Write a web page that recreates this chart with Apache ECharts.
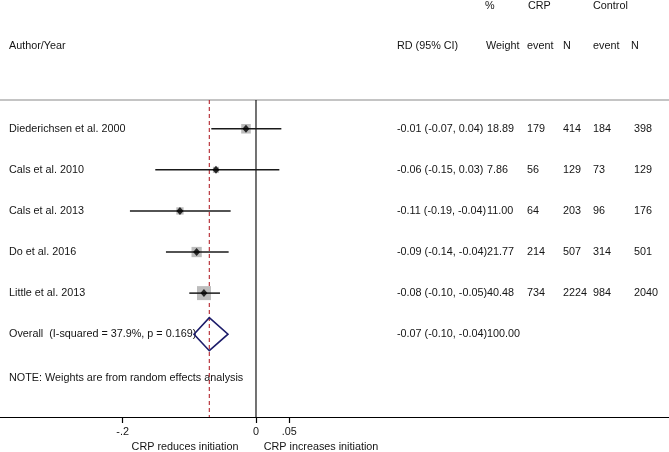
<!DOCTYPE html>
<html><head><meta charset="utf-8">
<script src="https://cdn.jsdelivr.net/npm/echarts@6/dist/echarts.min.js"></script>
<style>html,body{margin:0;padding:0;background:#fff}#c{width:669px;height:452px}</style>
</head><body><div id="c"></div>
<script>
// ---- data ----
const studies = ["Diederichsen et al. 2000","Cals et al. 2010","Cals et al. 2013","Do et al. 2016","Little et al. 2013"];
const rd = [-0.015,-0.060,-0.114,-0.089,-0.078];
const ciLow = [-0.067,-0.151,-0.189,-0.135,-0.100];
const ciHigh = [0.038,0.035,-0.038,-0.041,-0.054];
const weights = [18.89,7.86,11.00,21.77,40.48];
const rdText = ["-0.01 (-0.07, 0.04)","-0.06 (-0.15, 0.03)","-0.11 (-0.19, -0.04)","-0.09 (-0.14, -0.04)","-0.08 (-0.10, -0.05)"];
const weightText = ["18.89","7.86","11.00","21.77","40.48"];
const crpEvent = ["179","56","64","214","734"];
const crpN = ["414","129","203","507","2224"];
const ctrlEvent = ["184","73","96","314","984"];
const ctrlN = ["398","129","176","501","2040"];
const overallLabel = "Overall  (I-squared = 37.9%, p = 0.169)";
const overallEst = -0.07;
const overallLow = -0.093;
const overallHigh = -0.042;
const overallText = "-0.07 (-0.10, -0.04)";
const overallWeight = "100.00";
const noteText = "NOTE: Weights are from random effects analysis";
const xTicks = [-0.2, 0, 0.05];
const xTickLabels = ["-.2", "0", ".05"];

// ---- layout / style ----
const FONT = '10.8px "Liberation Sans", Arial, sans-serif';
const TXT = '#141414';
const col = {name: 9, rd: 397, w: 487, ce: 527, cn: 563, te: 593, tn: 634};
const Y_MIN = -0.7, Y_MAX = 7.015;

const chart = echarts.init(document.getElementById('c'), null, {renderer: 'canvas'});

function txt(x, y, s, align) {
  return {type: 'text', x: x, y: y, silent: true,
    style: {text: s, fill: TXT, font: FONT, align: align || 'left', verticalAlign: 'middle'}};
}

const option = {
  animation: false,
  backgroundColor: '#fff',
  grid: {left: 0, right: 0, top: 100, bottom: 35},
  xAxis: [
    {type: 'value', min: -0.3838, max: 0.6192, position: 'bottom',
     axisLine: {show: true, onZero: false, lineStyle: {color: '#000', width: 1.2}},
     axisTick: {show: true, customValues: xTicks, length: 6, lineStyle: {color: '#000', width: 1.2}},
     axisLabel: {show: true, customValues: xTicks, margin: 10, color: TXT,
       fontFamily: 'Liberation Sans', fontSize: 10.8,
       formatter: function (v) { const i = xTicks.findIndex(t => Math.abs(t - v) < 1e-9); return i >= 0 ? xTickLabels[i] : ''; }},
     splitLine: {show: false}},
    {type: 'value', min: 0, max: 669, position: 'top',
     axisLine: {show: true, onZero: false, lineStyle: {color: '#c4c4c4', width: 2}},
     axisTick: {show: false}, axisLabel: {show: false}, splitLine: {show: false}}
  ],
  yAxis: {type: 'value', inverse: true, min: Y_MIN, max: Y_MAX, show: false},
  graphic: [
    txt(9, 46, 'Author/Year'),
    txt(397, 46, 'RD (95% CI)'),
    txt(485, 6, '%'),
    txt(486, 46, 'Weight'),
    txt(528, 6, 'CRP'),
    txt(527, 46, 'event'),
    txt(563, 46, 'N'),
    txt(593, 6, 'Control'),
    txt(593, 46, 'event'),
    txt(631, 46, 'N'),
    txt(9, 378, noteText),
    txt(185, 447, 'CRP reduces initiation', 'center'),
    txt(321, 447, 'CRP increases initiation', 'center')
  ],
  series: [
    // reference lines: null (0) and overall estimate
    {type: 'custom', xAxisIndex: 0, z: 1,
     data: [[0, 0], [overallEst, 1]],
     renderItem: function (params, api) {
       const x = api.value(0);
       const a = api.coord([x, Y_MIN]);
       const b = api.coord([x, Y_MAX]);
       const dashed = api.value(1) === 1;
       return {type: 'line', shape: {x1: a[0], y1: a[1], x2: b[0], y2: b[1]},
         style: dashed ? {stroke: '#b3242c', lineWidth: 1.1, lineDash: [4, 3]}
                       : {stroke: '#000', lineWidth: 1.1}};
     }},
    {type: 'custom', xAxisIndex: 0, z: 3,
     data: rd.map((v, i) => [v, ciLow[i], ciHigh[i], weights[i], i]),
     renderItem: function (params, api) {
       const i = api.value(4);
       const p = api.coord([api.value(0), i]);
       const a = api.coord([api.value(1), i]);
       const b = api.coord([api.value(2), i]);
       const s = 2.2 * Math.sqrt(api.value(3));
       return {type: 'group', children: [
         {type: 'rect', shape: {x: p[0] - s / 2, y: p[1] - s / 2, width: s, height: s}, style: {fill: '#bcbcbc'}},
         {type: 'line', shape: {x1: a[0], y1: a[1], x2: b[0], y2: b[1]}, style: {stroke: '#1a1a1a', lineWidth: 1.5}}
       ]};
     }},
    {type: 'scatter', xAxisIndex: 0, z: 4, symbol: 'diamond', symbolSize: [7, 8],
     itemStyle: {color: '#000'}, data: rd.map((v, i) => [v, i])},
    {type: 'custom', xAxisIndex: 1, z: 2,
     data: studies.map((s, i) => [i]).concat([[5]]),
     renderItem: function (params, api) {
       const i = api.value(0);
       const y = api.coord([0, i])[1];
       const X = c => api.coord([c, i])[0];
       if (i === 5) {
         return {type: 'group', children: [
           txt(X(col.name), y, overallLabel), txt(X(col.rd), y, overallText), txt(X(col.w), y, overallWeight)]};
       }
       return {type: 'group', children: [
         txt(X(col.name), y, studies[i]), txt(X(col.rd), y, rdText[i]), txt(X(col.w), y, weightText[i]),
         txt(X(col.ce), y, crpEvent[i]), txt(X(col.cn), y, crpN[i]),
         txt(X(col.te), y, ctrlEvent[i]), txt(X(col.tn), y, ctrlN[i])]};
     }},
    {type: 'custom', xAxisIndex: 0, z: 5,
     data: [[overallEst, overallLow, overallHigh, 5]],
     renderItem: function (params, api) {
       const r = api.value(3);
       const c = api.coord([api.value(0), r]);
       const l = api.coord([api.value(1), r]);
       const h = api.coord([api.value(2), r]);
       const hh = 16.5;
       return {type: 'polygon', shape: {points: [[l[0], c[1]], [c[0], c[1] - hh], [h[0], c[1]], [c[0], c[1] + hh]]},
         style: {fill: 'none', stroke: '#1c1c6a', lineWidth: 1.6}};
     }}
  ]
};
chart.setOption(option);
</script></body></html>
